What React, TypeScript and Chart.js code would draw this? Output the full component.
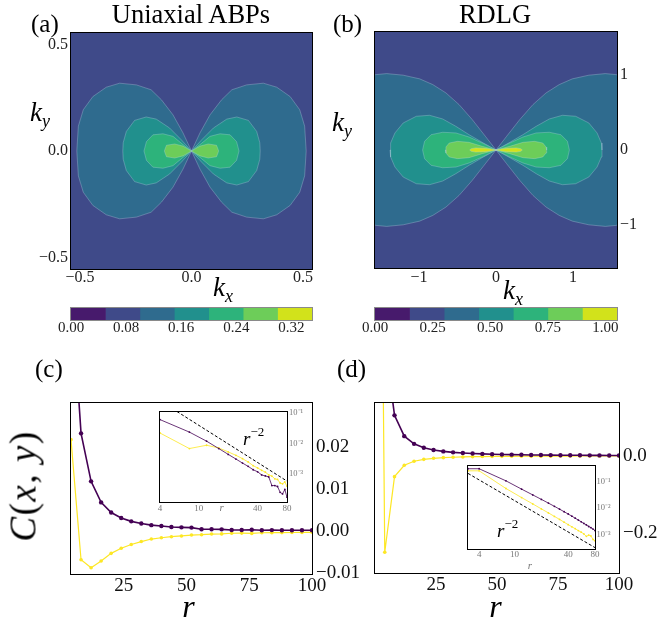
import React, { useEffect, useRef } from 'react';
import { Chart, registerables } from 'chart.js';

Chart.register(...registerables);

const W = 664;
const H = 622;
const SERIF = "'Liberation Serif', 'Times New Roman', serif";

// ---------- colour bins (filled contour levels) ----------
const BIN_COLORS = ['#471a6c', '#3f4a89', '#2f6b8e', '#21908d', '#2db37b', '#6dcd59', '#d2e21b'];
const LEVELS_A = [0, 0.05, 0.1, 0.15, 0.2, 0.25, 0.3, 0.35];
const LEVELS_B = [0, 0.15, 0.3, 0.45, 0.6, 0.75, 0.9, 1.05];
const CB_TICKS_A = [0, 0.08, 0.16, 0.24, 0.32];
const CB_TICKS_B = [0, 0.25, 0.5, 0.75, 1.0];

// ---------- contour boundaries, first quadrant (mirrored) ----------
// panel (a)
const A_L10_KX = [0, 0.038, 0.083, 0.135, 0.181, 0.247, 0.322, 0.382, 0.442, 0.485, 0.507, 0.514];
const A_L10_KY = [0, 0.085, 0.17, 0.241, 0.288, 0.311, 0.319, 0.3, 0.256, 0.194, 0.117, 0];
const A_L15_KX = [0, 0.046, 0.098, 0.158, 0.203, 0.255, 0.292, 0.306, 0.308];
const A_L15_KY = [0, 0.053, 0.108, 0.15, 0.16, 0.144, 0.092, 0.039, 0];
const A_L20_KX = [0, 0.038, 0.083, 0.128, 0.173, 0.202, 0.213];
const A_L20_KY = [0, 0.03, 0.069, 0.081, 0.076, 0.044, 0];
const A_L25_KX = [0, 0.038, 0.075, 0.112, 0.122];
const A_L25_KY = [0, 0.023, 0.033, 0.027, 0];
// panel (b)
const B_L30_KX = [0, 0.137, 0.308, 0.479, 0.65, 0.821, 0.991, 1.205, 1.419, 1.556, 1.62];
const B_L30_KY = [0, 0.181, 0.404, 0.604, 0.76, 0.871, 0.947, 0.996, 1.017, 1.004, 0.99];
const B_L45_KX = [0, 0.179, 0.35, 0.521, 0.692, 0.863, 1.034, 1.205, 1.312, 1.368, 1.376];
const B_L45_KY = [0, 0.102, 0.204, 0.315, 0.413, 0.462, 0.449, 0.36, 0.227, 0.093, 0];
const B_L60_KX = [0, 0.179, 0.35, 0.521, 0.692, 0.842, 0.927, 0.953];
const B_L60_KY = [0, 0.093, 0.173, 0.227, 0.236, 0.204, 0.116, 0];
const B_L75_KX = [0, 0.179, 0.35, 0.5, 0.607, 0.65, 0.658];
const B_L75_KY = [0, 0.049, 0.102, 0.115, 0.093, 0.04, 0];
const B_L90_KX = [0, 0.07, 0.137, 0.265, 0.32, 0.342];
const B_L90_KY = [0, 0.014, 0.022, 0.028, 0.018, 0];

// ---------- correlation curves ----------
const R_C = [4, 8, 12, 16, 20, 24, 28, 32, 36, 40, 44, 48, 52, 56, 60, 64, 68, 72, 76, 80, 84, 88, 92, 96, 100];
const PURPLE_C = [0.059, 0.0232, 0.0118, 0.0068, 0.0044, 0.0031, 0.0023, 0.0018, 0.0014, 0.0012, 0.00095, 0.00088, 0.00082, 0.00043, 0.00043, 0.0004, 0.00026, 0.00023, 0.00032, 0.00018, 0.00022, 0.0002, 0.00019, 0.00018, 0.00017];
const YELLOW_C = [0.0217, -0.0068, -0.0087, -0.0071, -0.0053, -0.0041, -0.0032, -0.0025, -0.0019, -0.0016, -0.00134, -0.00117, -0.00095, -0.00087, -0.00071, -0.00068, -0.00052, -0.00049, -0.00056, -0.00041, -0.0004, -0.00037, -0.00035, -0.00033, -0.0003];

const R_D = [0, 4, 8, 12, 16, 20, 24, 28, 32, 36, 40, 44, 48, 52, 56, 60, 64, 68, 72, 76, 80, 84, 88, 92, 96, 100];
const PURPLE_D = [1.0, 0.3, 0.105, 0.051, 0.031, 0.021, 0.0152, 0.0115, 0.009, 0.0072, 0.0059, 0.0049, 0.0041, 0.0035, 0.003, 0.0026, 0.0023, 0.002, 0.0018, 0.0016, 0.0014, 0.00127, 0.00115, 0.00105, 0.00097, 0.0009];
const YELLOW_D = [2.5, -0.25, -0.054, -0.0245, -0.0142, -0.0092, -0.0065, -0.0048, -0.0037, -0.0029, -0.00235, -0.00195, -0.00165, -0.0014, -0.00122, -0.00105, -0.00085, -0.00095, -0.00088, -0.00065, -0.00058, -0.00052, -0.00048, -0.00044, -0.0004, -0.00037];

// r^-2 guide lines (end points)
const GUIDE_C_R = [4, 80];
const GUIDE_C_V = [0.24, 0.0006];
const GUIDE_D_R = [3, 80];
const GUIDE_D_V = [0.2, 0.00032];

// ---------- ticks ----------
const TICKS_A = [-0.5, 0, 0.5];
const TICKS_B = [-1, 0, 1];
const TICKS_MAIN_X = [25, 50, 75, 100];
const TICKS_C_Y = [-0.01, 0, 0.01, 0.02];
const TICKS_D_Y = [-0.2, 0];
const TICKS_INSET_X = [4, 10, 40, 80];
const TICKS_INSET_Y = [0.001, 0.01, 0.1];

// ---------- layout (chart areas, px) ----------
const AREA_A = { l: 71, t: 33, r: 312, b: 269 };
const AREA_B = { l: 375, t: 32, r: 617, b: 268 };
const AREA_CBA = { l: 71, t: 308, r: 312, b: 320 };
const AREA_CBB = { l: 375, t: 308, r: 617, b: 320 };
const AREA_C = { l: 71, t: 403, r: 312, b: 574 };
const AREA_D = { l: 375, t: 403, r: 619, b: 573 };
const AREA_CI = { l: 160, t: 412, r: 287, b: 502 };
const AREA_DI = { l: 468, t: 466, r: 595, b: 549 };

const PURPLE = '#440154';
const YELLOW = '#fde725';

const MINUS = '\u2212';
const fmt = (d: number) => (v: number) => (v < -1e-12 ? MINUS : '') + Math.abs(v).toFixed(d);
const SUP: Record<string, string> = { '-': '\u207b', '0': '\u2070', '1': '\u00b9', '2': '\u00b2', '3': '\u00b3', '4': '\u2074', '5': '\u2075' };
const fmtLog = (v: number) => '10' + String(Math.round(Math.log10(v))).split('').map((c) => SUP[c] || c).join('');

const X_BOX = 28;

function axis(o: any) {
  const boxSize = o.box;
  return {
    type: o.type || 'linear',
    position: o.position,
    min: o.min,
    max: o.max,
    bounds: 'data',
    display: true,
    grid: { display: false, drawTicks: false },
    border: { display: false },
    afterFit: (s: any) => {
      if (s.isHorizontal()) s.height = boxSize;
      else s.width = boxSize;
    },
    afterBuildTicks: (s: any) => {
      s.ticks = o.ticks.map((v: number) => ({ value: v }));
    },
    ticks: {
      autoSkip: false,
      maxRotation: 0,
      minRotation: 0,
      padding: o.pad,
      color: o.color || '#111',
      font: { family: SERIF, size: o.size, lineHeight: 1 },
      callback: (v: any) => o.fmt(Number(v)),
    },
  };
}

function areaPlugin(bg: string | null, frame: string) {
  return {
    id: 'areaStyle',
    beforeDraw(chart: any) {
      if (!bg) return;
      const { left, top, right, bottom } = chart.chartArea;
      const ctx = chart.ctx;
      ctx.save();
      ctx.fillStyle = bg;
      ctx.fillRect(left, top, right - left, bottom - top);
      ctx.restore();
    },
    afterDraw(chart: any) {
      const { left, top, right, bottom } = chart.chartArea;
      const ctx = chart.ctx;
      ctx.save();
      ctx.strokeStyle = frame;
      ctx.lineWidth = 1;
      ctx.strokeRect(left - 0.5, top - 0.5, right - left + 1, bottom - top + 1);
      ctx.restore();
    },
  };
}

// yPos: side of the y axis ('left' | 'right' | null); yBox: width of that axis box
function baseOptions(area: any, yPos: string | null, yBox: number, xBox: number) {
  return {
    animation: false,
    responsive: false,
    maintainAspectRatio: false,
    devicePixelRatio: 1,
    events: [],
    layout: {
      padding: {
        left: area.l - (yPos === 'left' ? yBox : 0),
        top: area.t,
        right: W - area.r - (yPos === 'right' ? yBox : 0),
        bottom: H - area.b - xBox,
      },
    },
    plugins: { legend: { display: false }, tooltip: { enabled: false }, title: { display: false } },
  };
}

function lobes(kx: number[], ky: number[], color: string) {
  const upper: any[] = [];
  for (let i = kx.length - 1; i >= 1; i--) upper.push({ x: -kx[i], y: ky[i] });
  for (let i = 0; i < kx.length; i++) upper.push({ x: kx[i], y: ky[i] });
  const lower = upper.map((p) => ({ x: p.x, y: -p.y }));
  return [upper, lower].map((data) => ({
    data,
    fill: { value: 0 },
    backgroundColor: color,
    borderColor: 'rgba(190,215,228,0.45)',
    borderWidth: 0.7,
    pointRadius: 0,
    tension: 0,
  }));
}

function contourConfig(area: any, lim: number[], datasets: any[], ticks: number[], dec: number, yPos: string, xPad: number, yPad: number) {
  const yBox = 40;
  return {
    type: 'line',
    data: { datasets },
    options: {
      ...baseOptions(area, yPos, yBox, X_BOX),
      scales: {
        x: axis({ position: 'bottom', min: lim[0], max: lim[1], ticks, fmt: fmt(dec), size: 16, pad: xPad, color: '#222', box: X_BOX }),
        y: axis({ position: yPos, min: lim[2], max: lim[3], ticks, fmt: fmt(dec), size: 16, pad: yPad, color: '#222', box: yBox }),
      },
    },
    plugins: [areaPlugin(BIN_COLORS[1], '#000')],
  };
}

function colorbarConfig(area: any, levels: number[], ticks: number[]) {
  const datasets = BIN_COLORS.map((c, i) => ({
    data: [[levels[i], levels[i + 1]]],
    backgroundColor: c,
    borderWidth: 0,
    barPercentage: 1,
    categoryPercentage: 1,
    grouped: false,
  }));
  return {
    type: 'bar',
    data: { labels: [''], datasets },
    options: {
      ...baseOptions(area, null, 0, X_BOX),
      indexAxis: 'y',
      scales: {
        x: axis({ position: 'bottom', min: levels[0], max: levels[levels.length - 1], ticks, fmt: fmt(2), size: 15, pad: 1, color: '#222', box: X_BOX }),
        y: { type: 'category', display: false },
      },
    },
    plugins: [areaPlugin(null, '#8a8a8a')],
  };
}

const pts = (rs: number[], vs: number[]) => rs.map((r, i) => ({ x: r, y: vs[i] }));

function mainConfig(area: any, rs: number[], purple: number[], yellow: number[], xMin: number, yMin: number, yMax: number, yTicks: number[], dec: number) {
  const yBox = Math.min(55, W - area.r);
  return {
    type: 'line',
    data: {
      datasets: [
        { data: pts(rs, purple), borderColor: PURPLE, backgroundColor: PURPLE, borderWidth: 1.6, pointRadius: 2.2, pointBorderWidth: 0, pointBackgroundColor: PURPLE, tension: 0, fill: false },
        { data: pts(rs, yellow), borderColor: YELLOW, backgroundColor: YELLOW, borderWidth: 1.2, pointRadius: 1.8, pointBorderWidth: 0, pointBackgroundColor: YELLOW, tension: 0, fill: false },
      ],
    },
    options: {
      ...baseOptions(area, 'right', yBox, X_BOX),
      scales: {
        x: axis({ position: 'bottom', min: xMin, max: 100, ticks: TICKS_MAIN_X, fmt: fmt(0), size: 19, pad: 3, box: X_BOX }),
        y: axis({ position: 'right', min: yMin, max: yMax, ticks: yTicks, fmt: fmt(dec), size: 19, pad: 4, box: yBox }),
      },
    },
    plugins: [areaPlugin(null, '#000')],
  };
}

function insetConfig(area: any, rs: number[], purple: number[], yellow: number[], gr: number[], gv: number[], lim: number[], xPad: number, yPad: number) {
  const absPts = (vs: number[]) =>
    rs.map((r, i) => (r === 0 ? { x: lim[0], y: Math.abs(vs[i + 1]) } : { x: r, y: Math.abs(vs[i]) }));
  const yBox = 30;
  const xBox = 16;
  return {
    type: 'line',
    data: {
      datasets: [
        { data: pts(gr, gv), borderColor: '#000', borderWidth: 1, borderDash: [3, 2], pointRadius: 0, tension: 0, fill: false },
        { data: absPts(purple), borderColor: PURPLE, borderWidth: 0.8, pointRadius: 0.9, pointBorderWidth: 0, pointBackgroundColor: PURPLE, tension: 0, fill: false },
        { data: absPts(yellow), borderColor: YELLOW, borderWidth: 0.8, pointRadius: 0.9, pointBorderWidth: 0, pointBackgroundColor: YELLOW, tension: 0, fill: false },
      ],
    },
    options: {
      ...baseOptions(area, 'right', yBox, xBox),
      scales: {
        x: axis({ type: 'logarithmic', position: 'bottom', min: lim[0], max: lim[1], ticks: TICKS_INSET_X, fmt: fmt(0), size: 9, pad: xPad, color: '#777', box: xBox }),
        y: axis({ type: 'logarithmic', position: 'right', min: lim[2], max: lim[3], ticks: TICKS_INSET_Y, fmt: fmtLog, size: 8.5, pad: yPad, color: '#777', box: yBox }),
      },
    },
    plugins: [areaPlugin('#ffffff', '#000')],
  };
}

const contourA = () =>
  contourConfig(
    AREA_A,
    [-0.54, 0.54, -0.555, 0.555],
    [
      ...lobes(A_L25_KX, A_L25_KY, BIN_COLORS[5]),
      ...lobes(A_L20_KX, A_L20_KY, BIN_COLORS[4]),
      ...lobes(A_L15_KX, A_L15_KY, BIN_COLORS[3]),
      ...lobes(A_L10_KX, A_L10_KY, BIN_COLORS[2]),
    ],
    TICKS_A,
    1,
    'left',
    1,
    3
  );

const contourB = () =>
  contourConfig(
    AREA_B,
    [-1.5708, 1.5708, -1.5708, 1.5708],
    [
      ...lobes(B_L90_KX, B_L90_KY, BIN_COLORS[6]),
      ...lobes(B_L75_KX, B_L75_KY, BIN_COLORS[5]),
      ...lobes(B_L60_KX, B_L60_KY, BIN_COLORS[4]),
      ...lobes(B_L45_KX, B_L45_KY, BIN_COLORS[3]),
      ...lobes(B_L30_KX, B_L30_KY, BIN_COLORS[2]),
    ],
    TICKS_B,
    0,
    'right',
    1.5,
    3
  );

const CONFIGS: Array<() => any> = [
  contourA,
  contourB,
  () => colorbarConfig(AREA_CBA, LEVELS_A, CB_TICKS_A),
  () => colorbarConfig(AREA_CBB, LEVELS_B, CB_TICKS_B),
  () => mainConfig(AREA_C, R_C, PURPLE_C, YELLOW_C, 4, -0.0102, 0.0304, TICKS_C_Y, 2),
  () => mainConfig(AREA_D, R_D, PURPLE_D, YELLOW_D, 0, -0.304, 0.137, TICKS_D_Y, 1),
  () => insetConfig(AREA_CI, R_C, PURPLE_C, YELLOW_C, GUIDE_C_R, GUIDE_C_V, [4, 80, 1.26e-4, 0.104], 2, 2),
  () => insetConfig(AREA_DI, R_D, PURPLE_D, YELLOW_D, GUIDE_D_R, GUIDE_D_V, [3, 80, 2.84e-4, 0.38], 1.5, 1.5),
];

function ChartLayer({ make }: { make: () => any }) {
  const ref = useRef<HTMLCanvasElement>(null);
  useEffect(() => {
    const chart = new Chart(ref.current as HTMLCanvasElement, make());
    return () => chart.destroy();
  }, [make]);
  return (
    <canvas
      ref={ref}
      width={W}
      height={H}
      style={{ position: 'absolute', left: 0, top: 0, width: W, height: H, pointerEvents: 'none' }}
    />
  );
}

function Txt({ x, base, size, align = 'center', color = '#000', children, style }: any) {
  return (
    <div
      style={{
        position: 'absolute',
        left: x,
        top: base - 0.8375 * size,
        fontSize: size,
        lineHeight: 1,
        fontFamily: SERIF,
        color,
        whiteSpace: 'nowrap',
        transform: align === 'center' ? 'translateX(-50%)' : undefined,
        ...style,
      }}
    >
      {children}
    </div>
  );
}

const Sub = ({ size, dy, children }: any) => (
  <span style={{ fontSize: size, position: 'relative', top: dy }}>{children}</span>
);

function Kx({ x, base, sub }: any) {
  return (
    <Txt x={x} base={base} size={27} align="left">
      <i>k</i>
      <Sub size={18} dy={6}>
        <i>{sub}</i>
      </Sub>
    </Txt>
  );
}

function RPow({ x, base }: any) {
  return (
    <Txt x={x} base={base} size={19} align="left">
      <i>r</i>
      <Sub size={13} dy={-9}>
        {MINUS}2
      </Sub>
    </Txt>
  );
}

export default function App() {
  return (
    <div style={{ position: 'absolute', left: 0, top: 0, width: W, height: H, background: '#fff', overflow: 'hidden' }}>
      {CONFIGS.map((make, i) => (
        <ChartLayer key={i} make={make} />
      ))}
      <Txt x={191} base={23} size={26.5}>Uniaxial ABPs</Txt>
      <Txt x={495} base={23.5} size={26.5}>RDLG</Txt>
      <Txt x={31} base={32} size={25} align="left">(a)</Txt>
      <Txt x={333} base={32} size={25} align="left">(b)</Txt>
      <Txt x={35} base={377} size={25} align="left">(c)</Txt>
      <Txt x={337} base={377} size={25} align="left">(d)</Txt>
      <Kx x={30} base={122} sub="y" />
      <Kx x={332} base={132} sub="y" />
      <Kx x={213} base={297} sub="x" />
      <Kx x={503} base={300} sub="x" />
      <Txt x={188.5} base={617} size={32}>
        <i>r</i>
      </Txt>
      <Txt x={495.5} base={617} size={32}>
        <i>r</i>
      </Txt>
      <div
        style={{
          position: 'absolute',
          left: 23,
          top: 486,
          fontSize: 37,
          lineHeight: 1,
          fontFamily: SERIF,
          whiteSpace: 'nowrap',
          letterSpacing: 1.5,
          transform: 'translate(-50%, -50%) rotate(-90deg)',
        }}
      >
        <i>C</i>(<i>x</i>, <i>y</i>)
      </div>
      <RPow x={243} base={445} />
      <RPow x={497} base={537} />
      <Txt x={221.7} base={511} size={11} color="#777">
        <i>r</i>
      </Txt>
      <Txt x={530} base={569} size={11} color="#777">
        <i>r</i>
      </Txt>
    </div>
  );
}
